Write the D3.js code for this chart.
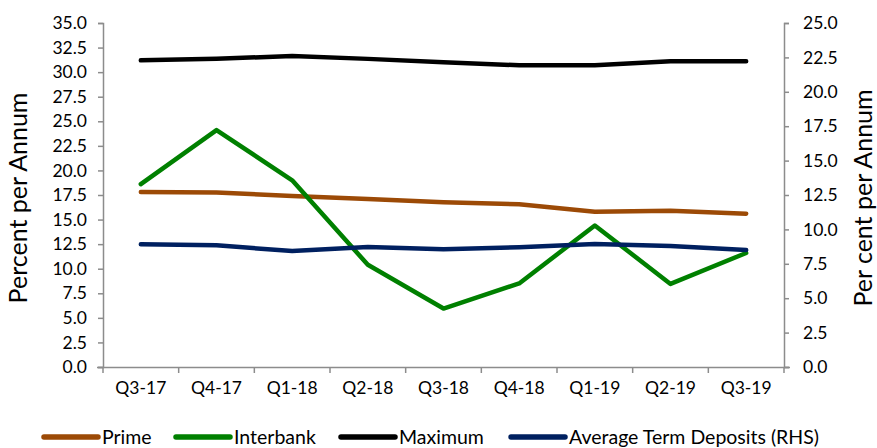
<!DOCTYPE html>
<html>
<head>
<meta charset="utf-8">
<script src="https://cdn.jsdelivr.net/npm/d3@7/dist/d3.min.js"></script>
<style>
  html, body { margin: 0; padding: 0; background: #fff; }
  svg text { font-family: Lato, "Open Sans", sans-serif; fill: #000; }
</style>
</head>
<body>
<svg id="chart" width="877" height="448"></svg>
<script>
// Quarterly interest rates
const quarters = ["Q3-17", "Q4-17", "Q1-18", "Q2-18", "Q3-18", "Q4-18", "Q1-19", "Q2-19", "Q3-19"];
const prime = [17.8, 17.75, 17.4, 17.1, 16.75, 16.55, 15.8, 15.9, 15.6];
const interbank = [18.6, 24.1, 19.0, 10.4, 5.95, 8.5, 14.4, 8.45, 11.6];
const maximum = [31.2, 31.35, 31.65, 31.35, 31.0, 30.7, 30.7, 31.1, 31.1];
const avgTermDeposits = [8.92, 8.84, 8.43, 8.72, 8.55, 8.7, 8.94, 8.79, 8.5];
const leftTicks = [0, 2.5, 5, 7.5, 10, 12.5, 15, 17.5, 20, 22.5, 25, 27.5, 30, 32.5, 35];
const rightTicks = [0, 2.5, 5, 7.5, 10, 12.5, 15, 17.5, 20, 22.5, 25];

const series = [
  { name: "Prime", values: prime, color: "#9C4A06", axis: "left" },
  { name: "Interbank", values: interbank, color: "#008000", axis: "left" },
  { name: "Maximum", values: maximum, color: "#000000", axis: "left" },
  { name: "Average Term Deposits (RHS)", values: avgTermDeposits, color: "#002060", axis: "right" }
];

const svg = d3.select("#chart");
const m = { left: 103, right: 784, top: 23, bottom: 367 };
const axisColor = "#8c8c8c";

const x = d3.scaleBand().domain(quarters).range([m.left, m.right]);
const yL = d3.scaleLinear().domain([0, 35]).range([m.bottom, m.top]);
const yR = d3.scaleLinear().domain([0, 25]).range([m.bottom, m.top]);

function styleAxis(g) {
  g.select(".domain").attr("stroke", axisColor).attr("stroke-width", 1.5);
  g.selectAll(".tick line").attr("stroke", axisColor).attr("stroke-width", 1.5);
  g.selectAll(".tick text").attr("font-size", 17.5).attr("fill", "#000");
}

// Left axis
svg.append("g")
  .attr("transform", `translate(${m.left},0)`)
  .call(d3.axisLeft(yL).tickValues(leftTicks).tickFormat(d3.format(".1f")).tickSizeOuter(0).tickSize(5).tickPadding(11))
  .call(styleAxis);

// Right axis
svg.append("g")
  .attr("transform", `translate(${m.right},0)`)
  .call(d3.axisRight(yR).tickValues(rightTicks).tickFormat(d3.format(".1f")).tickSizeOuter(0).tickSize(5).tickPadding(14))
  .call(styleAxis);

// Bottom axis: ticks sit on category boundaries
const xAxis = svg.append("g")
  .attr("transform", `translate(0,${m.bottom})`)
  .call(d3.axisBottom(x).tickSize(0).tickPadding(15))
  .call(styleAxis);
xAxis.select(".domain").attr("d", `M${m.left - 6},0.5H${m.right + 6}`);
const bounds = d3.range(quarters.length + 1).map(i => m.left + i * x.bandwidth());
xAxis.selectAll(".bound").data(bounds).enter().append("line")
  .attr("class", "bound")
  .attr("x1", d => d).attr("x2", d => d)
  .attr("y1", 0).attr("y2", 6)
  .attr("stroke", axisColor).attr("stroke-width", 1.5);

// Axis titles
svg.append("text")
  .attr("transform", `translate(27,${(m.top + m.bottom) / 2 + 3}) rotate(-90)`)
  .attr("text-anchor", "middle")
  .attr("font-size", 25)
  .text("Percent per Annum");
svg.append("text")
  .attr("transform", `translate(872,${(m.top + m.bottom) / 2 + 3}) rotate(-90)`)
  .attr("text-anchor", "middle")
  .attr("font-size", 25)
  .text("Per cent per Annum");

// Series lines
const cx = d => x(d) + x.bandwidth() / 2;
series.forEach(s => {
  const ys = s.axis === "left" ? yL : yR;
  const line = d3.line().x((d, i) => cx(quarters[i])).y(d => ys(d));
  svg.append("path")
    .datum(s.values)
    .attr("d", line)
    .attr("fill", "none")
    .attr("stroke", s.color)
    .attr("stroke-width", 4.5)
    .attr("stroke-linejoin", "round")
    .attr("stroke-linecap", "round");
});

// Legend
const legendX = [44, 176, 341, 511];
const legend = svg.append("g").attr("transform", "translate(0,437)");
series.forEach((s, i) => {
  const g = legend.append("g").attr("transform", `translate(${legendX[i]},0)`);
  g.append("line").attr("x1", 0).attr("x2", 54).attr("y1", 0).attr("y2", 0)
    .attr("stroke", s.color).attr("stroke-width", 5.5).attr("stroke-linecap", "round");
  g.append("text").attr("x", 58).attr("y", 0).attr("dy", "0.35em")
    .attr("font-size", 19.5).text(s.name);
});
</script>
</body>
</html>
